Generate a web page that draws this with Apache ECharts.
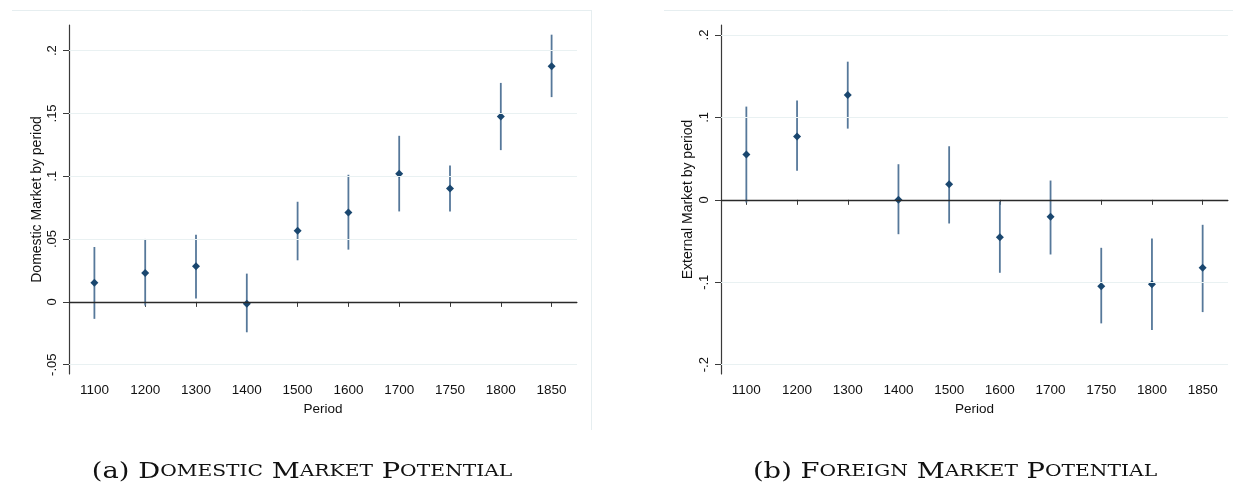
<!DOCTYPE html>
<html>
<head>
<meta charset="utf-8">
<script src="https://cdn.jsdelivr.net/npm/echarts@6/dist/echarts.min.js"></script>
<style>
html,body{margin:0;padding:0;background:#fff;}
#chart{width:1233px;height:487px;}
</style>
</head>
<body>
<div id="chart"></div>
<script>
// ---- Data ----
const periods = ['1100','1200','1300','1400','1500','1600','1700','1750','1800','1850'];

const domesticEst  = [0.0153, 0.0230, 0.0283, -0.0014, 0.0567, 0.0712, 0.1020, 0.0903, 0.1475, 0.1876];
const domesticLow  = [-0.0135, -0.0029, 0.0026, -0.0242, 0.0331, 0.0416, 0.0720, 0.0720, 0.1208, 0.1630];
const domesticHigh = [0.0437, 0.0501, 0.0535, 0.0225, 0.0797, 0.1012, 0.1322, 0.1086, 0.1743, 0.2127];

const foreignEst  = [0.0549, 0.0767, 0.1273, 0.0000, 0.0189, -0.0453, -0.0206, -0.1047, -0.1023, -0.0824];
const foreignLow  = [-0.0033, 0.0352, 0.0864, -0.0417, -0.0287, -0.0885, -0.0663, -0.1499, -0.1580, -0.1362];
const foreignHigh = [0.1131, 0.1204, 0.1676, 0.0432, 0.0650, -0.0020, 0.0234, -0.0582, -0.0469, -0.0303];

const domesticTicks = [-0.05, 0, 0.05, 0.1, 0.15, 0.2];
const domesticTickLabels = ['-.05', '0', '.05', '.1', '.15', '.2'];
const domesticRange = [-0.0574, 0.2204];

const foreignTicks = [-0.2, -0.1, 0, 0.1, 0.2];
const foreignTickLabels = ['-.2', '-.1', '0', '.1', '.2'];
const foreignRange = [-0.2113, 0.2121];

const yTitles = ['Domestic Market by period', 'External Market by period'];
const xTitle = 'Period';
const captionPrefixes = ['(a) ', '(b) '];
const captionTexts = ['Domestic Market Potential', 'Foreign Market Potential'];

// ---- Styles ----
const FONT = 'Liberation Sans, Arial, sans-serif';
const AXIS_COLOR = '#3a3a3a';
const GRID_COLOR = '#e9f1f2';
const BAR_COLOR = '#56789a';
const MARK_COLOR = '#1a476f';

function fmt(ticks, labels) {
  return function (v) {
    for (let i = 0; i < ticks.length; i++) {
      if (Math.abs(ticks[i] - v) < 1e-9) return labels[i];
    }
    return '';
  };
}

function yAxisCfg(gridIndex, range, ticks, labels, title, nameGap) {
  return {
    type: 'value', gridIndex: gridIndex, min: range[0], max: range[1],
    name: title, nameLocation: 'middle', nameGap: nameGap,
    nameTextStyle: {fontFamily: FONT, fontSize: 14, color: '#111'},
    axisLine: {show: true, lineStyle: {color: AXIS_COLOR, width: 1.2}},
    axisTick: {show: true, length: 6, customValues: ticks, lineStyle: {color: AXIS_COLOR, width: 1}},
    axisLabel: {show: true, customValues: ticks, rotate: 90, margin: 10,
      fontFamily: FONT, fontSize: 13, color: '#111', formatter: fmt(ticks, labels)},
    splitLine: {show: false}
  };
}

function xAxisCfg(gridIndex) {
  return {
    type: 'category', gridIndex: gridIndex, data: periods, boundaryGap: true,
    name: xTitle, nameLocation: 'middle', nameGap: 26,
    nameTextStyle: {fontFamily: FONT, fontSize: 13.5, color: '#111'},
    axisLine: {show: true, lineStyle: {color: AXIS_COLOR, width: 1.2}},
    axisTick: {show: true, alignWithLabel: true, length: 5, lineStyle: {color: AXIS_COLOR, width: 1}},
    axisLabel: {show: true, margin: 9, fontFamily: FONT, fontSize: 13.5, color: '#111'},
    splitLine: {show: false}
  };
}

function errorSeries(idx, low, high) {
  return {
    type: 'custom', xAxisIndex: idx, yAxisIndex: idx, z: 3,
    data: low.map((l, i) => [i, l, high[i]]),
    renderItem: function (params, api) {
      const x = api.value(0);
      const p1 = api.coord([x, api.value(1)]);
      const p2 = api.coord([x, api.value(2)]);
      return {type: 'line', shape: {x1: p1[0], y1: p1[1], x2: p2[0], y2: p2[1]},
        style: {stroke: BAR_COLOR, lineWidth: 1.8}};
    },
    silent: true
  };
}

function pointSeries(idx, est, ticks) {
  return {
    type: 'scatter', xAxisIndex: idx, yAxisIndex: idx, z: 4,
    data: est.map((v, i) => [i, v]),
    symbol: 'diamond', symbolSize: 8,
    itemStyle: {color: MARK_COLOR, opacity: 1},
    silent: true,
    markLine: {
      silent: true, symbol: 'none', label: {show: false},
      animation: false,
      data: ticks.filter(t => t !== 0).map(t => ({yAxis: t, lineStyle: {color: GRID_COLOR, width: 1.2, type: 'solid'}}))
        .concat([{yAxis: 0, lineStyle: {color: '#2a2a2a', width: 1.3, type: 'solid'}}])
    }
  };
}

function smallCapsRich(prefix, text) {
  let out = '{n|' + prefix + '}';
  const re = /([A-Z]+)|([a-z]+)|([^A-Za-z]+)/g;
  let m;
  while ((m = re.exec(text)) !== null) {
    if (m[1]) out += '{b|' + m[1] + '}';
    else if (m[2]) out += '{s|' + m[2].toUpperCase() + '}';
    else out += '{n|' + m[3] + '}';
  }
  return out;
}

const SERIF = 'DejaVu Serif, Liberation Serif, serif';
const capRich = {
  n: {fontFamily: SERIF, fontSize: 23, fill: '#111', color: '#111'},
  b: {fontFamily: SERIF, fontSize: 23, fill: '#111', color: '#111'},
  s: {fontFamily: SERIF, fontSize: 17, fill: '#111', color: '#111'}
};

const chart = echarts.init(document.getElementById('chart'), null, {renderer: 'canvas'});
chart.setOption({
  animation: false,
  backgroundColor: '#ffffff',
  grid: [
    {left: 69, right: 656, top: 25, bottom: 113, containLabel: false},
    {left: 721, right: 5, top: 25, bottom: 113, containLabel: false}
  ],
  xAxis: [xAxisCfg(0), xAxisCfg(1)],
  yAxis: [
    yAxisCfg(0, domesticRange, domesticTicks, domesticTickLabels, yTitles[0], 25),
    yAxisCfg(1, foreignRange, foreignTicks, foreignTickLabels, yTitles[1], 26)
  ],
  series: [
    errorSeries(0, domesticLow, domesticHigh),
    pointSeries(0, domesticEst, domesticTicks),
    errorSeries(1, foreignLow, foreignHigh),
    pointSeries(1, foreignEst, foreignTicks)
  ],
  graphic: [
    {type: 'line', silent: true, shape: {x1: 12, y1: 10.5, x2: 591, y2: 10.5}, style: {stroke: '#e6eef0', lineWidth: 1}},
    {type: 'line', silent: true, shape: {x1: 591.5, y1: 10, x2: 591.5, y2: 430}, style: {stroke: '#e6eef0', lineWidth: 1}},
    {type: 'line', silent: true, shape: {x1: 664, y1: 10.5, x2: 1233, y2: 10.5}, style: {stroke: '#e6eef0', lineWidth: 1}},
    {type: 'text', silent: true, x: 302, y: 472, scaleX: 1.19,
      style: {text: smallCapsRich(captionPrefixes[0], captionTexts[0]), rich: capRich,
        align: 'center', verticalAlign: 'middle', textAlign: 'center', textVerticalAlign: 'middle', fill: '#111'}},
    {type: 'text', silent: true, x: 955, y: 472, scaleX: 1.19,
      style: {text: smallCapsRich(captionPrefixes[1], captionTexts[1]), rich: capRich,
        align: 'center', verticalAlign: 'middle', textAlign: 'center', textVerticalAlign: 'middle', fill: '#111'}}
  ]
});
</script>
</body>
</html>
